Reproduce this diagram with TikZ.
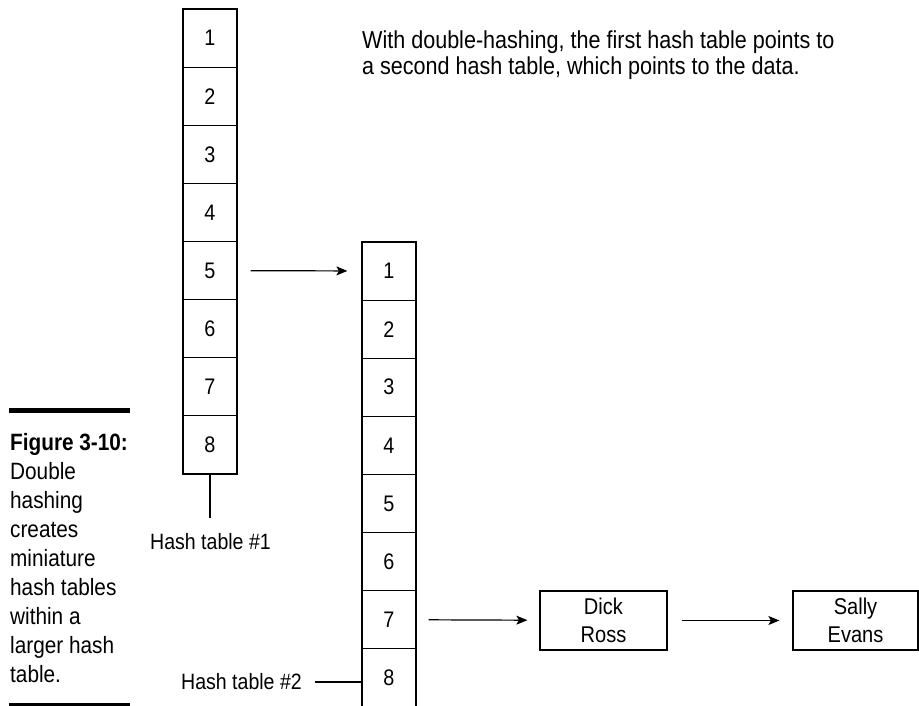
\documentclass[tikz,border=0pt]{standalone}
\usepackage{fontspec}
\setmainfont{Liberation Sans}[FakeStretch=0.88]
\usetikzlibrary{arrows.meta}
\begin{document}
\begin{tikzpicture}[x=1pt,y=-1pt,
  lw/.style={line width=1.2pt},
  cell/.style={draw, lw, minimum width=54pt, minimum height=58.1pt, inner sep=0pt, font=\fontsize{22.5}{26}\selectfont},
  rec/.style={draw, lw, minimum width=127pt, minimum height=59pt, inner sep=0pt, align=center, font=\fontsize{22.8}{28.5}\selectfont},
  lbl/.style={inner sep=0pt, font=\fontsize{22.2}{26}\selectfont},
  arr/.style={lw, -{Stealth[length=11pt,width=9pt,inset=2.5pt]}},
  bar/.style={line width=5pt}]
\clip (0,0) rectangle (919,706);
\foreach \i in {1,...,8} {
  \node[cell] (a\i) at (210,{9+58.125*(\i-0.5)}) {\i};
  \node[cell] (b\i) at (389,{242+58.1*(\i-0.5)}) {\i};
}
\node[rec] (dick) at (603.5,620.5) {Dick\\Ross};
\node[rec, minimum width=125pt] (sally) at (855.5,620.5) {Sally\\Evans};
\draw[arr, shorten <=13pt, shorten >=14pt] (a5) -- (b1);
\draw[arr, shorten <=12pt, shorten >=12pt] (b7) -- (dick);
\draw[arr, shorten <=14pt, shorten >=13pt] (dick) -- (sally);
\node[lbl] (h1) at (210.5,542) {Hash table \#1};
\coordinate (h1top) at (210,518);
\draw[lw] (a8.south) -- (h1top);
\node[lbl] (h2) at (241.5,682) {Hash table \#2};
\draw[lw, shorten <=13pt] (h2.east) -- (h2.east -| b8.west);
\node[anchor=west, align=left, inner sep=0pt, font=\fontsize{24.5}{26.5}\selectfont] (note) at (362,55)
  {With double-hashing, the first hash table points to\\a second hash table, which points to the data.};
\node[anchor=west, align=left, inner sep=0pt, font=\fontsize{23.6}{29.1}\selectfont] (cap) at (10,558)
  {\textbf{Figure 3-10:}\\Double\\hashing\\creates\\miniature\\hash tables\\within a\\larger hash\\table.};
\coordinate (bt1) at (9,410);
\coordinate (bt2) at (130,410);
\coordinate (bb1) at (9,705.5);
\coordinate (bb2) at (130,705.5);
\draw[bar] (bt1) -- (bt2);
\draw[bar] (bb1) -- (bb2);
\end{tikzpicture}
\end{document}
